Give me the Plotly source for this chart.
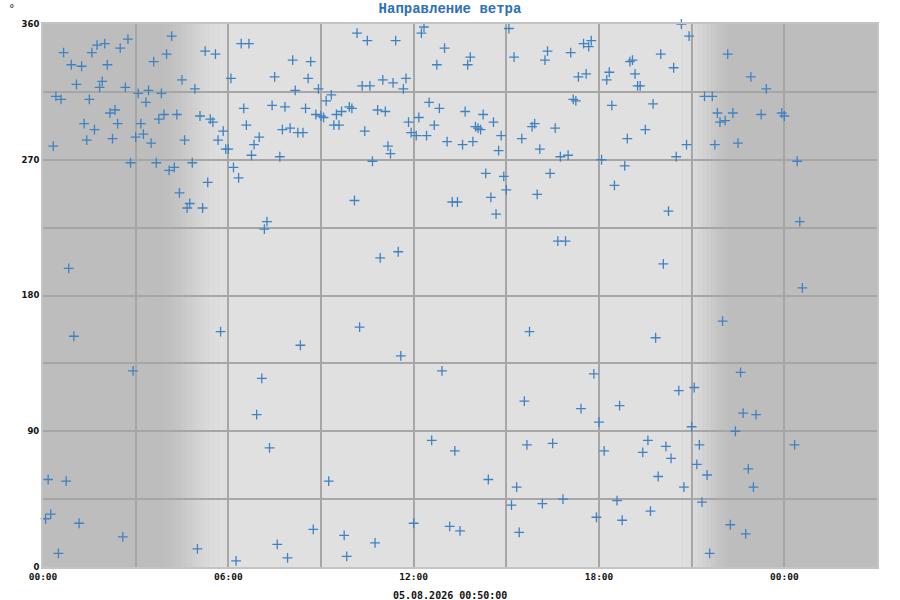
import numpy as np
import pandas as pd
import plotly.graph_objects as go

start = pd.Timestamp("2026-08-04 00:00:00")
title_text = "Направление ветра"
stamp_text = "05.08.2026 00:50:00"
y_ticks = [0, 90, 180, 270, 360]

# minutes after 04.08.2026 00:00 and wind direction in degrees
minutes_since_start = [
    165, 250, 105, 120, 40, 95, 150, 240, 315, 335, 385, 400, 485, 520, 55, 75, 125, 215, 450, 515,
    365, 270, 65, 115, 110, 160, 295, 490, 535, 185, 205, 230, 25, 35, 90, 200, 390, 445, 470, 510,
    130, 140, 235, 225, 260, 305, 325, 330, 530, 80, 100, 145, 190, 195, 180, 350, 340, 395, 465, 480,
    495, 505, 420, 410, 405, 460, 20, 85, 135, 210, 275, 355, 360, 170, 220, 245, 255, 290, 370, 380,
    320, 265, 285, 280, 310, 435, 430, 50,
    60, 345, 500, 175, 425, 415, 440, 10, 45, 15, 5, 70, 155, 30, 300, 375, 455, 475, 525,
    610, 630, 685, 740, 735, 905, 780, 765, 830, 825, 915, 980, 975, 1025, 1050, 1060, 1065, 1040, 1055,
    620, 635, 660, 680, 705, 700, 560, 550, 540, 545, 570, 580, 595, 600, 650, 665, 565, 575, 625, 710,
    715, 725, 730, 745, 750, 770, 760, 785, 815, 835, 820, 855, 875, 840, 845, 850, 890, 885, 930, 950,
    955, 995, 965, 1005, 1020, 1030, 1035, 670, 675, 640, 860, 895, 900, 870, 880, 985, 960, 605, 795,
    805, 1000, 1015, 655, 690,
    615, 695, 775, 945, 935, 1045, 1070, 1080, 755, 800, 940, 990, 555, 865, 920, 910, 970, 1010, 1075,
    720, 790, 810, 925, 585, 645, 590,
    1240, 1255, 1200, 1330, 1140, 1145, 1100, 1095, 1150, 1225, 1155, 1160, 1375, 1405, 1285, 1300,
    1105, 1185, 1310, 1315, 1325, 1340, 1395, 1435, 1440, 1170, 1135, 1250, 1305, 1350, 1230, 1085,
    1130, 1465, 1110, 1215, 1470, 1205, 1475,
    1320, 1190, 1355, 1265, 1235, 1120, 1360, 1385, 1260, 1345, 1090, 1175, 1165, 1210, 1220, 1275,
    1460, 1270, 1290, 1370, 1380, 1195, 1245, 1115, 1125, 1180, 1280, 1335, 1365, 1295,
]
direction_deg = [
    350, 352, 346, 347, 341, 341, 344, 340, 342, 340, 347, 347, 336, 335, 333, 332, 333, 335, 325, 324,
    324, 323, 320, 322, 318, 318, 317, 316, 317, 314, 316, 314, 312, 310, 310, 308, 304, 306, 305, 304,
    301, 303, 300, 297, 300, 299, 297, 295, 300, 294, 290, 294, 294, 287, 285, 289, 283, 293, 290, 291,
    288, 288, 285, 280, 273, 272, 279, 283, 284, 281, 283, 277, 277, 268, 268, 263, 265, 268, 265, 258,
    255, 248, 241, 238, 238, 229, 224, 198,
    153, 156, 147, 130, 125, 101, 79, 58, 57, 35, 32, 29, 20, 9, 12, 4, 15, 6, 25,
    354, 349, 349, 358, 354, 357, 344, 333, 338, 333, 338, 342, 336, 341, 347, 345, 349, 325, 327,
    319, 319, 323, 321, 324, 317, 313, 309, 299, 298, 300, 302, 305, 304, 303, 302, 293, 293, 289, 295,
    288, 286, 298, 286, 308, 304, 293, 282, 280, 282, 302, 300, 295, 292, 291, 290, 286, 276, 284, 292,
    294, 291, 277, 272, 273, 310, 309, 279, 274, 269, 261, 259, 250, 245, 234, 261, 247, 243, 242,
    242, 216, 216, 205, 209,
    159, 140, 130, 156, 110, 105, 128, 96, 84, 77, 81, 82, 57, 58, 53, 41, 42, 45, 33,
    29, 27, 24, 23, 21, 16, 7,
    360, 352, 340, 340, 335, 336, 328, 323, 327, 331, 319, 319, 325, 317, 312, 312,
    306, 307, 301, 295, 296, 301, 300, 301, 299, 290, 284, 280, 280, 281, 272, 270,
    266, 269, 253, 236, 229, 201, 185,
    163, 152, 129, 119, 117, 107, 102, 101, 93, 90, 77, 84, 76, 80, 72, 81,
    81, 68, 61, 65, 53, 60, 53, 44, 31, 37, 43, 28, 22, 9,
]

times = start + pd.to_timedelta(minutes_since_start, unit="m")

marker_color = "#3f82c2"
fig = go.Figure(
    go.Scatter(
        x=times, y=direction_deg, mode="markers", cliponaxis=False,
        marker=dict(symbol="cross-thin", size=7, color=marker_color,
                    line=dict(width=1.3, color=marker_color)),
        showlegend=False,
    )
)

# day / night background with gradients
night = np.array([189, 189, 189])
day = np.array([224, 224, 224])
shapes = []


def at(h):
    return str(start + pd.Timedelta(hours=float(h)))


def rgb(c):
    c = np.round(c).astype(int)
    return f"rgb({c[0]},{c[1]},{c[2]})"


def ramp(h0, h1, c0, c1, n=40):
    edges = np.linspace(h0, h1, n + 1)
    for i in range(n):
        f = (i + 0.5) / n
        f = f * f * (3 - 2 * f)
        shapes.append(dict(type="rect", xref="x", yref="paper", x0=at(edges[i]),
                           x1=at(edges[i + 1] + 0.01), y0=0, y1=1,
                           fillcolor=rgb(c0 + (c1 - c0) * f), line=dict(width=0), layer="below"))


ramp(3.7, 5.9, night, day)
shapes.append(dict(type="rect", xref="x", yref="paper", x0=at(5.9), x1=at(20.7), y0=0, y1=1,
                   fillcolor=rgb(day), line=dict(width=0), layer="below"))
ramp(20.7, 22.4, day, night)

grid = "#a6a6a6"
fig.update_layout(
    width=900, height=600,
    margin=dict(l=43, r=23, t=24, b=33),
    paper_bgcolor="white",
    plot_bgcolor=rgb(night),
    shapes=shapes,
    title=dict(text=title_text, x=0.5, xref="container", xanchor="center",
               y=1 - 8 / 600, yref="container", yanchor="middle",
               font=dict(family="Courier New, Liberation Mono, monospace", size=14,
                         color="#2f6fb5", weight="bold")),
    xaxis=dict(
        type="date", range=[at(0), at(27)], tickformat="%H:%M",
        tick0=at(0), dtick=6 * 3600 * 1000,
        showgrid=True, gridcolor=grid, gridwidth=1.5,
        minor=dict(dtick=3 * 3600 * 1000, tick0=at(0), showgrid=True, gridcolor=grid, gridwidth=1.5),
        showline=True, linecolor="#c4c4c4", linewidth=2, mirror=True,
        ticks="", zeroline=False,
        tickfont=dict(family="DejaVu Sans Mono", size=9.5, color="#111", weight="bold"),
    ),
    yaxis=dict(
        range=[0, 360], tickvals=y_ticks,
        showgrid=True, gridcolor=grid, gridwidth=1.5,
        minor=dict(dtick=45, tick0=0, showgrid=True, gridcolor=grid, gridwidth=1.5),
        showline=True, linecolor="#c4c4c4", linewidth=2, mirror=True,
        ticks="", zeroline=False,
        tickfont=dict(family="DejaVu Sans", size=8.5, color="#111", weight="bold"),
    ),
    annotations=[
        dict(text="°", xref="paper", yref="paper", x=(12 - 43) / 834, y=(567 - 9) / 543,
             showarrow=False, xanchor="center", yanchor="middle",
             font=dict(family="DejaVu Sans", size=11, color="#111")),
        dict(text=stamp_text, xref="paper", yref="paper", x=(450 - 43) / 834, y=(567 - 595) / 543,
             showarrow=False, xanchor="center", yanchor="middle",
             font=dict(family="DejaVu Sans Mono", size=10, color="#111", weight="bold")),
    ],
)

fig.write_html("out.html", config={"displayModeBar": False},
               post_script="document.body.style.margin='0';")
